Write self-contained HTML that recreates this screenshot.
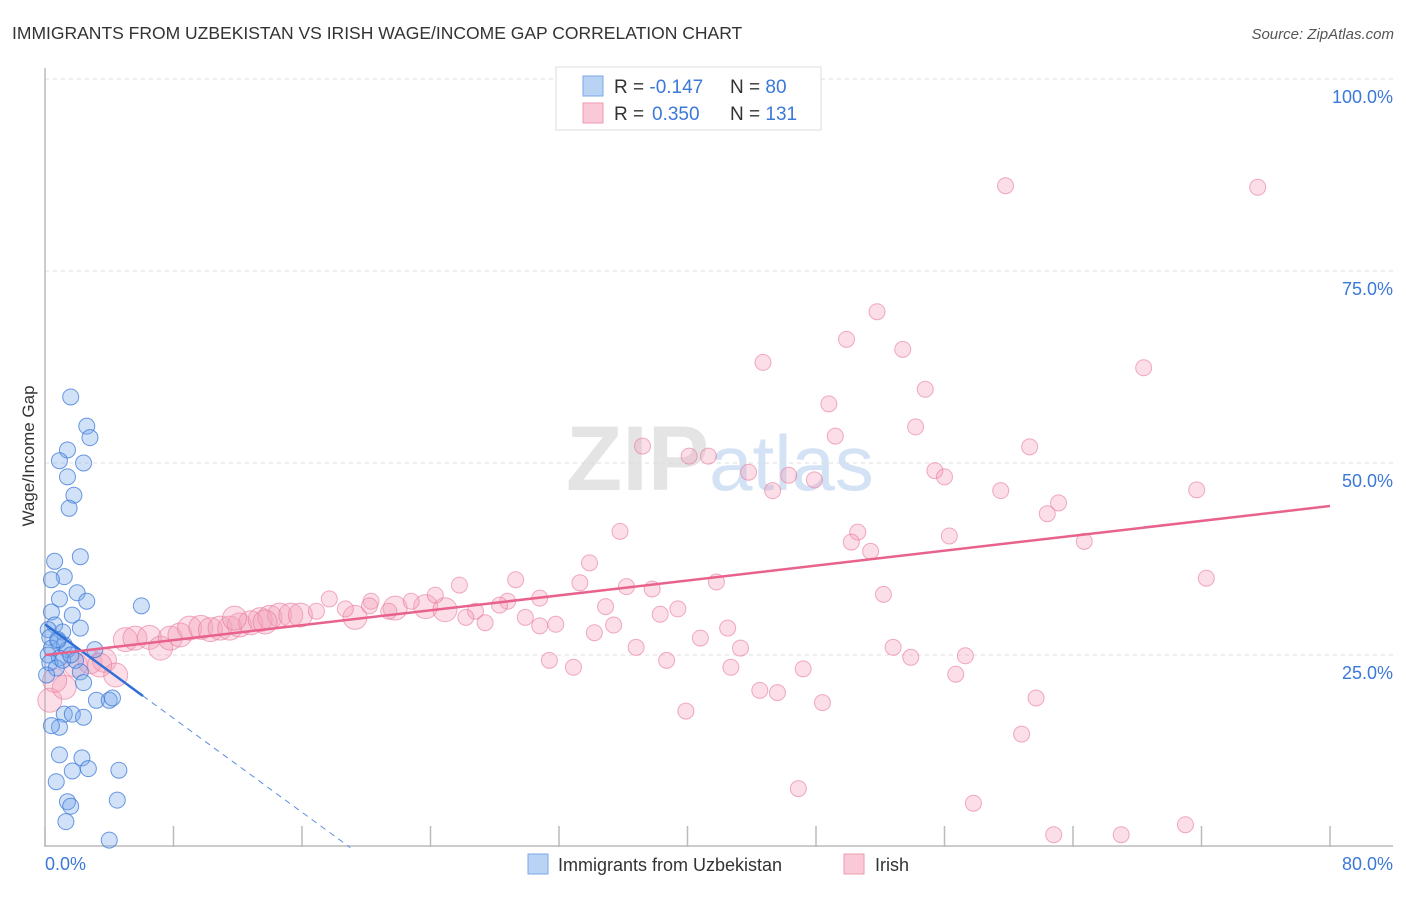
<!DOCTYPE html>
<html><head><meta charset="utf-8"><style>
body{margin:0;background:#fff;font-family:"Liberation Sans",sans-serif;}
svg text{font-family:"Liberation Sans",sans-serif;}
</style></head><body>
<svg width="1406" height="892" viewBox="0 0 1406 892" xmlns="http://www.w3.org/2000/svg">
<text x="12" y="39" font-size="17.5" fill="#333">IMMIGRANTS FROM UZBEKISTAN VS IRISH WAGE/INCOME GAP CORRELATION CHART</text>
<text x="1394" y="39" font-size="15" fill="#555" text-anchor="end" font-style="italic">Source: ZipAtlas.com</text>
<text x="720" y="490" font-size="92" fill="#e4e4e4" text-anchor="middle" font-family="Liberation Serif" font-weight="bold">ZIP<tspan fill="#d3e2f4" font-family="Liberation Sans" font-weight="normal" font-size="78">atlas</tspan></text>
<g id="grid"></g>
<g id="axes"></g>
<g id="pts"></g>
<g id="trend"></g>
<text transform="translate(34,456) rotate(-90)" font-size="17" fill="#333" text-anchor="middle">Wage/Income Gap</text>
<g>
<rect x="556" y="67" width="265" height="63" fill="#fff" stroke="#ddd"/>
<rect x="583" y="76" width="20" height="20" fill="#b9d3f5" stroke="#7aa7e6"/>
<rect x="583" y="103" width="20" height="20" fill="#f9c9d7" stroke="#ee9ab3"/>
<text x="614" y="93" font-size="19" fill="#333">R = <tspan fill="#3b78d8">-0.147</tspan><tspan x="730">N = </tspan><tspan fill="#3b78d8">80</tspan></text>
<text x="614" y="120" font-size="19" fill="#333">R = <tspan fill="#3b78d8" x="652">0.350</tspan><tspan x="730">N = </tspan><tspan fill="#3b78d8">131</tspan></text>
</g>
<g>
<rect x="528" y="854" width="20" height="20" fill="#b9d3f5" stroke="#7aa7e6"/>
<text x="558" y="871" font-size="18" fill="#333">Immigrants from Uzbekistan</text>
<rect x="844" y="854" width="20" height="20" fill="#f9c9d7" stroke="#ee9ab3"/>
<text x="875" y="871" font-size="18" fill="#333">Irish</text>
</g>
</svg>
<script>
const yTicks=[25,50,75,100];
const yTickLabels=["25.0%","50.0%","75.0%","100.0%"];
const xTicks=[0,8,16,24,32,40,48,56,64,72,80];
const xEndLabels=["0.0%","80.0%"];
const blueX=[1.6,2.6,2.8,1.4,0.9,2.4,1.4,1.8,1.5,2.2,0.6,1.2,0.4,2.0,0.9,2.6,6.0,0.4,1.7,0.6,2.2,0.2,1.1,0.3,0.8,1.2,0.4,1.4,3.1,0.2,0.9,1.9,0.3,0.7,2.2,0.1,2.4,3.2,4.0,4.2,1.2,1.7,2.4,0.9,0.4,0.9,2.3,1.7,2.7,4.6,0.7,1.4,1.6,4.5,1.3,4.0,0.8,1.1,1.6];
const blueY=[58.6,54.8,53.3,51.7,50.3,50.0,48.2,45.8,44.1,37.8,37.2,35.2,34.8,33.1,32.3,32.0,31.4,30.6,30.2,28.9,28.5,28.3,28.0,27.3,26.8,26.3,25.9,25.7,25.7,25.0,24.6,24.3,24.0,23.3,22.8,22.4,21.4,19.1,19.1,19.4,17.3,17.3,16.9,15.6,15.8,12.0,11.6,9.9,10.2,10.0,8.5,5.9,5.3,6.1,3.3,0.9,27.0,24.3,25.0];
const pinkX=[59.8,75.5,51.8,49.9,53.4,44.7,68.4,54.8,48.8,54.2,49.2,37.2,61.3,40.1,41.3,55.4,43.8,46.3,47.9,56.0,59.5,71.7,45.3,63.1,62.4,35.8,50.6,56.3,64.7,50.2,51.4,33.9,72.3,29.3,41.8,33.3,36.2,25.8,37.8,52.2,24.3,30.8,28.8,28.3,34.9,39.4,22.8,17.7,20.3,38.3,16.9,18.7,20.2,21.4,29.9,26.8,26.2,35.4,42.5,30.8,27.4,31.8,34.2,40.8,43.3,36.8,52.8,57.3,31.4,38.7,53.9,42.7,32.9,47.2,56.7,39.9,44.5,45.6,48.4,61.7,60.8,57.8,46.9,62.8,67.0,71.0];
const pinkY=[86.1,85.9,69.7,66.1,64.8,63.1,62.4,59.6,57.7,54.7,53.5,52.2,52.1,50.9,50.9,49.0,48.8,48.4,47.8,48.2,46.4,46.5,46.4,44.8,43.4,41.1,41.0,40.5,39.8,39.7,38.5,37.0,35.0,34.8,34.5,34.4,33.9,34.1,33.6,32.9,32.8,32.4,32.0,31.5,31.3,31.0,32.0,32.3,32.0,30.3,30.7,31.0,31.4,30.7,29.9,30.7,29.9,28.9,28.5,28.8,29.2,29.0,27.9,27.2,25.9,26.0,26.0,24.9,24.3,24.3,24.7,23.4,23.4,23.2,22.5,17.7,20.4,20.1,18.8,19.4,14.7,5.7,7.6,1.6,1.6,2.9];
const pinkClusterX=[0.3,1.2,1.9,2.8,3.7,4.4,5.0,5.6,6.5,7.2,7.8,8.4,9.0,9.7,10.3,10.9,11.5,12.1,12.8,13.4,14.0,14.6,15.3,15.9,0.6,3.4,11.8,13.7,19.3,21.8,23.7,24.9];
const pinkClusterY=[19.1,20.8,23.7,24.1,24.3,22.4,27.0,27.2,27.3,25.9,27.2,27.6,28.5,28.6,28.3,28.5,28.5,28.9,29.2,29.6,29.9,30.2,30.2,30.2,21.7,23.7,29.8,29.3,29.9,31.1,31.3,30.9];
const blueTrend=[29.0,-1.53,6.1,19.0];
const pinkTrend=[25.0,44.4];

const NS="http://www.w3.org/2000/svg";
const X0=45,X1=1330,Y0=847,Y100=79;
function sx(v){return X0+(X1-X0)*v/80;}
function sy(v){return Y0-(Y0-Y100)*v/100;}
function mk(tag,attrs,parent){const e=document.createElementNS(NS,tag);for(const k in attrs)e.setAttribute(k,attrs[k]);document.getElementById(parent).appendChild(e);return e;}

mk('line',{x1:X0,y1:sy(100),x2:1393,y2:sy(100),stroke:'#ddd','stroke-dasharray':'4,4'},'grid');
yTicks.forEach((t,i)=>{
 const l=mk('line',{x1:X0,y1:sy(t),x2:1393,y2:sy(t),stroke:'#ddd','stroke-dasharray':'4,4'},'grid');
 
 
 const tx=mk('text',{x:1393,y:sy(t)+24,'font-size':18,fill:'#3b78d8','text-anchor':'end'},'grid');
 tx.textContent=yTickLabels[i];
 
 
});
const ax=mk('line',{x1:X0,y1:68,x2:X0,y2:Y0-1,stroke:'#bbb','stroke-width':1.5},'axes');


const bx=mk('line',{x1:X0,y1:Y0-1,x2:1393,y2:Y0-1,stroke:'#bbb','stroke-width':1.5},'axes');


xTicks.forEach(t=>{
 const l=mk('line',{x1:sx(t),y1:826,x2:sx(t),y2:Y0,stroke:'#bbb','stroke-width':1.5},'axes');
 
 
});
const xl0=mk('text',{x:45,y:870,'font-size':18,fill:'#3b78d8'},'axes');xl0.textContent=xEndLabels[0];


const xl1=mk('text',{x:1393,y:870,'font-size':18,fill:'#3b78d8','text-anchor':'end'},'axes');xl1.textContent=xEndLabels[1];



pinkClusterX.forEach((v,i)=>{
 const c=mk('circle',{cx:sx(v),cy:sy(pinkClusterY[i]),r:12,fill:'rgba(244,160,185,0.35)',stroke:'rgba(232,120,155,0.6)','stroke-width':1},'pts');
 
 
});
pinkX.forEach((v,i)=>{
 const c=mk('circle',{cx:sx(v),cy:sy(pinkY[i]),r:8,fill:'rgba(244,160,185,0.35)',stroke:'rgba(232,120,155,0.6)','stroke-width':1},'pts');
 
 
});
blueX.forEach((v,i)=>{
 const c=mk('circle',{cx:sx(v),cy:sy(blueY[i]),r:8,fill:'rgba(120,170,235,0.35)',stroke:'rgba(60,120,215,0.75)','stroke-width':1},'pts');
 
 
});
const bt=blueTrend;
const b1=mk('line',{x1:sx(0),y1:sy(bt[0]),x2:sx(bt[2]),y2:sy(bt[0]+bt[1]*bt[2]),stroke:'#2f6fd6','stroke-width':2.5},'trend');


const b2=mk('line',{x1:sx(bt[2]),y1:sy(bt[0]+bt[1]*bt[2]),x2:sx(bt[3]),y2:sy(bt[0]+bt[1]*bt[3]),stroke:'#5a8ee0','stroke-width':1,'stroke-dasharray':'6,5'},'trend');


const p1=mk('line',{x1:sx(0),y1:sy(pinkTrend[0]),x2:sx(80),y2:sy(pinkTrend[1]),stroke:'#e8628c','stroke-width':2.5},'trend');


</script>
</body></html>
